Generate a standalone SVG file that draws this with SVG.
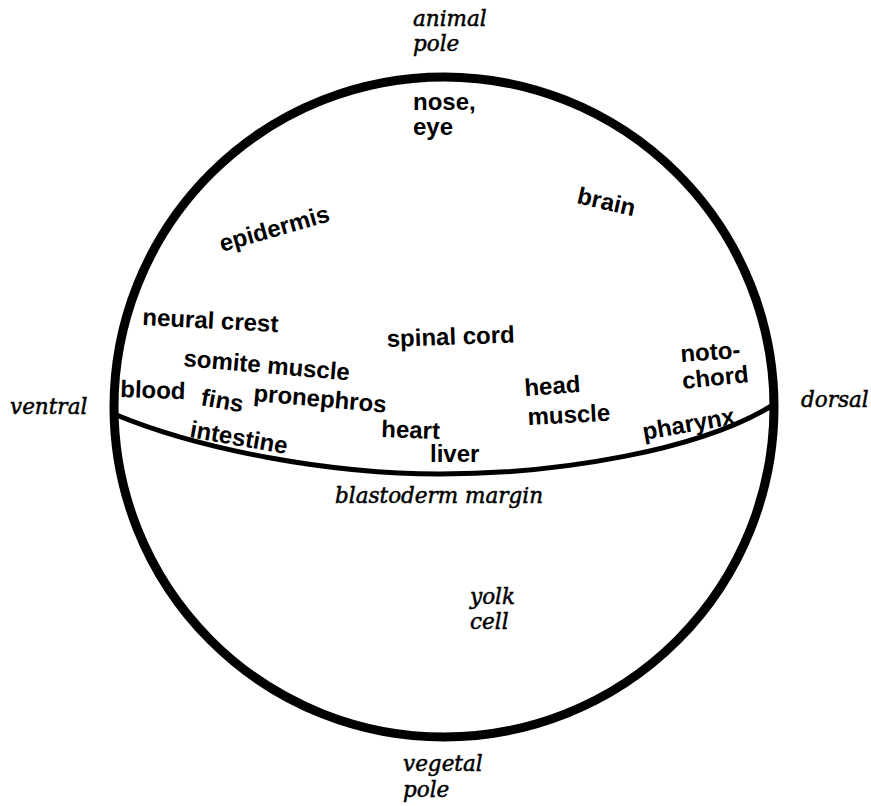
<svg xmlns="http://www.w3.org/2000/svg" width="871" height="806" viewBox="0 0 871 806">
<style>
.t{font-family:"Liberation Sans",Arial,sans-serif;font-weight:bold;font-size:24px;fill:#000}
.i{font-family:"DejaVu Serif","Liberation Serif",serif;font-style:italic;font-size:21.5px;fill:#000;stroke:#000;stroke-width:0.5}
.edge{fill:none;stroke:#000}
</style>
<rect width="871" height="806" fill="#fff"/>
<g id="embryo">
<circle class="edge" cx="444" cy="407" r="330" stroke-width="9"/>
<path id="blastoderm-margin-line" class="edge" stroke-width="5" d="M114,414 C200,450 330,474 440,474 C560,474 700,450 773,405"/>
</g>
<g id="axis-labels">
<g id="animal-pole"><text class="i" x="413" y="26">animal</text><text class="i" x="413" y="51">pole</text></g>
<g id="vegetal-pole"><text class="i" x="403" y="771">vegetal</text><text class="i" x="403" y="797">pole</text></g>
<g id="ventral"><text class="i" x="10" y="414">ventral</text></g>
<g id="dorsal"><text class="i" x="801" y="407">dorsal</text></g>
<g id="blastoderm-margin"><text class="i" x="335" y="503">blastoderm margin</text></g>
<g id="yolk-cell"><text class="i" x="470" y="604">yolk</text><text class="i" x="470" y="629">cell</text></g>
</g>
<g id="fate-labels">
<g id="nose-eye"><text class="t" x="413" y="110">nose,</text><text class="t" x="413" y="135">eye</text></g>
<g id="epidermis"><text class="t" x="222" y="252" transform="rotate(-16 222 252)">epidermis</text></g>
<g id="brain"><text class="t" x="576" y="203" transform="rotate(13 576 203)">brain</text></g>
<g id="neural-crest"><text class="t" x="142" y="325" transform="rotate(3 142 325)">neural crest</text></g>
<g id="spinal-cord"><text class="t" x="387" y="347" transform="rotate(-2 387 347)">spinal cord</text></g>
<g id="somite-muscle"><text class="t" x="183" y="366" transform="rotate(5 183 366)">somite muscle</text></g>
<g id="notochord"><text class="t" x="681" y="362" transform="rotate(-4 681 362)">noto-</text><text class="t" x="683" y="389" transform="rotate(-6 683 389)">chord</text></g>
<g id="blood"><text class="t" x="120" y="397" transform="rotate(2 120 397)">blood</text></g>
<g id="fins"><text class="t" x="200" y="405" transform="rotate(10 200 405)">fins</text></g>
<g id="pronephros"><text class="t" x="253" y="401" transform="rotate(5 253 401)">pronephros</text></g>
<g id="head-muscle"><text class="t" x="525" y="396" transform="rotate(-4 525 396)">head</text><text class="t" x="528" y="425" transform="rotate(-3 528 425)">muscle</text></g>
<g id="heart"><text class="t" x="381" y="437" transform="rotate(2 381 437)">heart</text></g>
<g id="liver"><text class="t" x="430" y="462">liver</text></g>
<g id="intestine"><text class="t" x="189" y="437" transform="rotate(10 189 437)">intestine</text></g>
<g id="pharynx"><text class="t" x="644" y="440" transform="rotate(-10 644 440)">pharynx</text></g>
</g>
</svg>
